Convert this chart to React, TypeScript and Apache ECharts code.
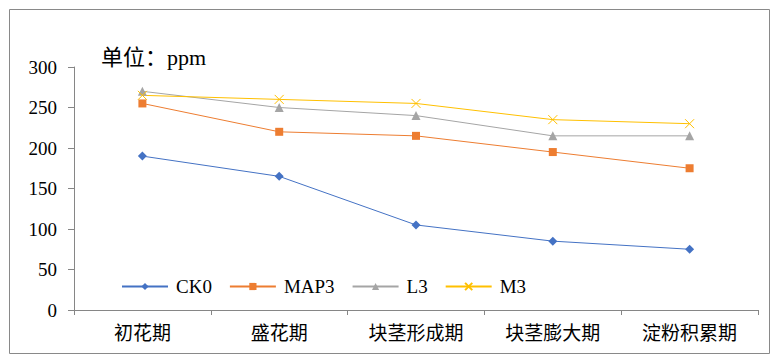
import React, { useEffect, useRef } from "react";
import * as echarts from "echarts";

const categories = ["初花期", "盛花期", "块茎形成期", "块茎膨大期", "淀粉积累期"];
const ck0 = [190, 165, 105, 85, 75];
const map3 = [255, 220, 215, 195, 175];
const l3 = [270, 250, 240, 215, 215];
const m3 = [265, 260, 255, 235, 230];
const yTicks = { min: 0, max: 300, interval: 50 };
const unitText = "单位：ppm";

const FONT = "Liberation Serif, Noto Sans CJK SC";

export default function App() {
  const ref = useRef<HTMLDivElement>(null);
  useEffect(() => {
    if (!ref.current) return;
    const chart = echarts.init(ref.current, undefined, { renderer: "svg" });
    const mk = (name: string, data: number[], color: string, symbol: string, size: number) => ({
      name,
      type: "line",
      data,
      symbol,
      symbolSize: size,
      lineStyle: { color, width: 1 },
      itemStyle: symbol.startsWith("path://")
        ? { color: "rgba(0,0,0,0)", borderColor: color, borderWidth: 1 }
        : { color, borderColor: color, borderWidth: 0 },
    });
    chart.setOption({
      animation: false,
      grid: { left: 66, right: 14, top: 59, bottom: 46, containLabel: false },
      graphic: [
        {
          type: "rect",
          shape: { x: 1.5, y: 1.5, width: 760, height: 344 },
          style: { fill: "none", stroke: "#898989", lineWidth: 1 },
          silent: true,
        },
        {
          type: "text",
          x: 93,
          y: 49,
          style: { text: unitText, fontFamily: FONT, fontSize: 22, fill: "#000", verticalAlign: "middle" },
        },
      ],
      legend: {
        left: 108,
        top: 264,
        itemWidth: 46,
        itemHeight: 9,
        itemGap: 17,
        textStyle: { fontFamily: FONT, fontSize: 19, color: "#000", padding: [0, 0, 0, 3] },
        data: ["CK0", "MAP3", "L3", "M3"],
      },
      xAxis: {
        type: "category",
        data: categories,
        boundaryGap: true,
        axisLine: { lineStyle: { color: "#868686", width: 1 } },
        axisTick: { show: true, length: 5, alignWithLabel: false, lineStyle: { color: "#868686" } },
        axisLabel: { fontFamily: FONT, fontSize: 19, color: "#000", margin: 14 },
      },
      yAxis: {
        type: "value",
        min: yTicks.min,
        max: yTicks.max,
        interval: yTicks.interval,
        axisLine: { show: true, lineStyle: { color: "#868686", width: 1 } },
        axisTick: { show: true, length: 6, lineStyle: { color: "#868686" } },
        splitLine: { show: false },
        axisLabel: { fontFamily: FONT, fontSize: 19, color: "#000", margin: 17 },
      },
      series: [
        mk("CK0", ck0, "#4472C4", "diamond", 9),
        mk("MAP3", map3, "#ED7D31", "rect", 8),
        mk("L3", l3, "#A5A5A5", "triangle", 9),
        mk("M3", m3, "#FFC000", "path://M0,0L10,10M10,0L0,10", 9),
      ],
    });
    return () => chart.dispose();
  }, []);
  return <div ref={ref} style={{ width: 764, height: 348 }} />;
}
